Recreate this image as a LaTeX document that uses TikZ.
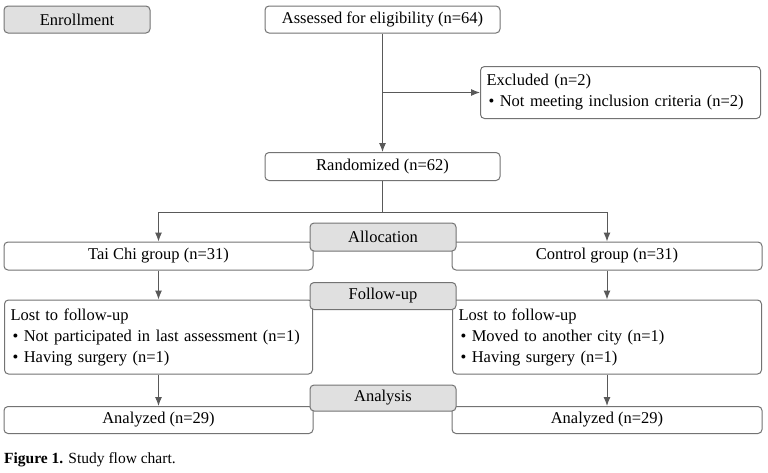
\documentclass[tikz,border=0pt]{standalone}
\usepackage{fontspec}
\setmainfont{Liberation Serif}
\usetikzlibrary{arrows.meta}

\tikzstyle{box} = [rectangle, draw=black!55, line width=1pt, rounded corners=4pt,
    fill=white, inner xsep=6pt, inner ysep=0pt, text centered,
    font=\fontsize{16.5}{21}\selectfont]
\tikzstyle{listbox} = [box, align=left]
\tikzstyle{stage} = [box, fill=black!12]
\tikzstyle{line} = [draw=black!65, line width=1pt]
\tikzstyle{arrow} = [line, -{Latex[length=9pt,width=7pt]}]

\begin{document}
\begin{tikzpicture}[x=1pt, y=-1pt]
	\useasboundingbox (0,0) rectangle (768,472);
	%
	\node [stage, minimum width=146pt, minimum height=27pt] (enroll) at (77,19.5) {Enrollment};
	\node [box, minimum width=235pt, minimum height=27pt] (assess) at (382.5,19.5) {Assessed for eligibility (n=64)};
	\node [listbox, text width=268pt, minimum height=52pt] (excl) at (620.5,92.5)
		{Excluded (n=2)\\\hspace{2pt}\textbullet\ Not meeting inclusion criteria (n=2)};
	\node [box, minimum width=235pt, minimum height=28pt] (rand) at (382.5,166.5) {Randomized (n=62)};
	\coordinate (ex) at (382.5,92.5);
	\coordinate (split) at (382.5,212);
	%
	\node [box, minimum width=309pt, minimum height=28pt] (tai) at (158.5,256) {Tai Chi group (n=31)};
	\node [box, minimum width=310pt, minimum height=28pt] (ctrl) at (607,256) {Control group (n=31)};
	%
	\node [listbox, text width=296pt, minimum height=74pt] (lostl) at (158.5,337)
		{Lost to follow-up\\\hspace{2pt}\textbullet\ Not participated in last assessment (n=1)\\\hspace{2pt}\textbullet\ Having surgery (n=1)};
	\node [listbox, text width=297pt, minimum height=74pt] (lostr) at (607,337)
		{Lost to follow-up\\\hspace{2pt}\textbullet\ Moved to another city (n=1)\\\hspace{2pt}\textbullet\ Having surgery (n=1)};
	%
	\node [box, minimum width=309pt, minimum height=27pt] (anl) at (158.5,420) {Analyzed (n=29)};
	\node [box, minimum width=310pt, minimum height=27pt] (anr) at (607,420) {Analyzed (n=29)};
	%
	\node [stage, minimum width=146pt, minimum height=28pt] (alloc) at (383,237) {Allocation};
	\node [stage, minimum width=146pt, minimum height=27pt] (follow) at (383,296) {Follow-up};
	\node [stage, minimum width=146pt, minimum height=26pt] (analysis) at (383,398) {Analysis};
	%
	\draw [arrow] (assess) -- (rand);
	\draw [arrow] (ex) -- (excl);
	\draw [line] (rand) -- (split);
	\draw [arrow] (split) -| (tai);
	\draw [arrow] (split) -| (ctrl);
	\draw [arrow] (tai) -- (lostl);
	\draw [arrow] (ctrl) -- (lostr);
	\draw [arrow] (lostl) -- (anl);
	\draw [arrow] (lostr) -- (anr);
	%
	\node [anchor=west, inner sep=0pt, font=\fontsize{15.5}{18}\selectfont] (cap) at (4,460)
		{\textbf{Figure 1.} Study flow chart.};
\end{tikzpicture}
\end{document}
